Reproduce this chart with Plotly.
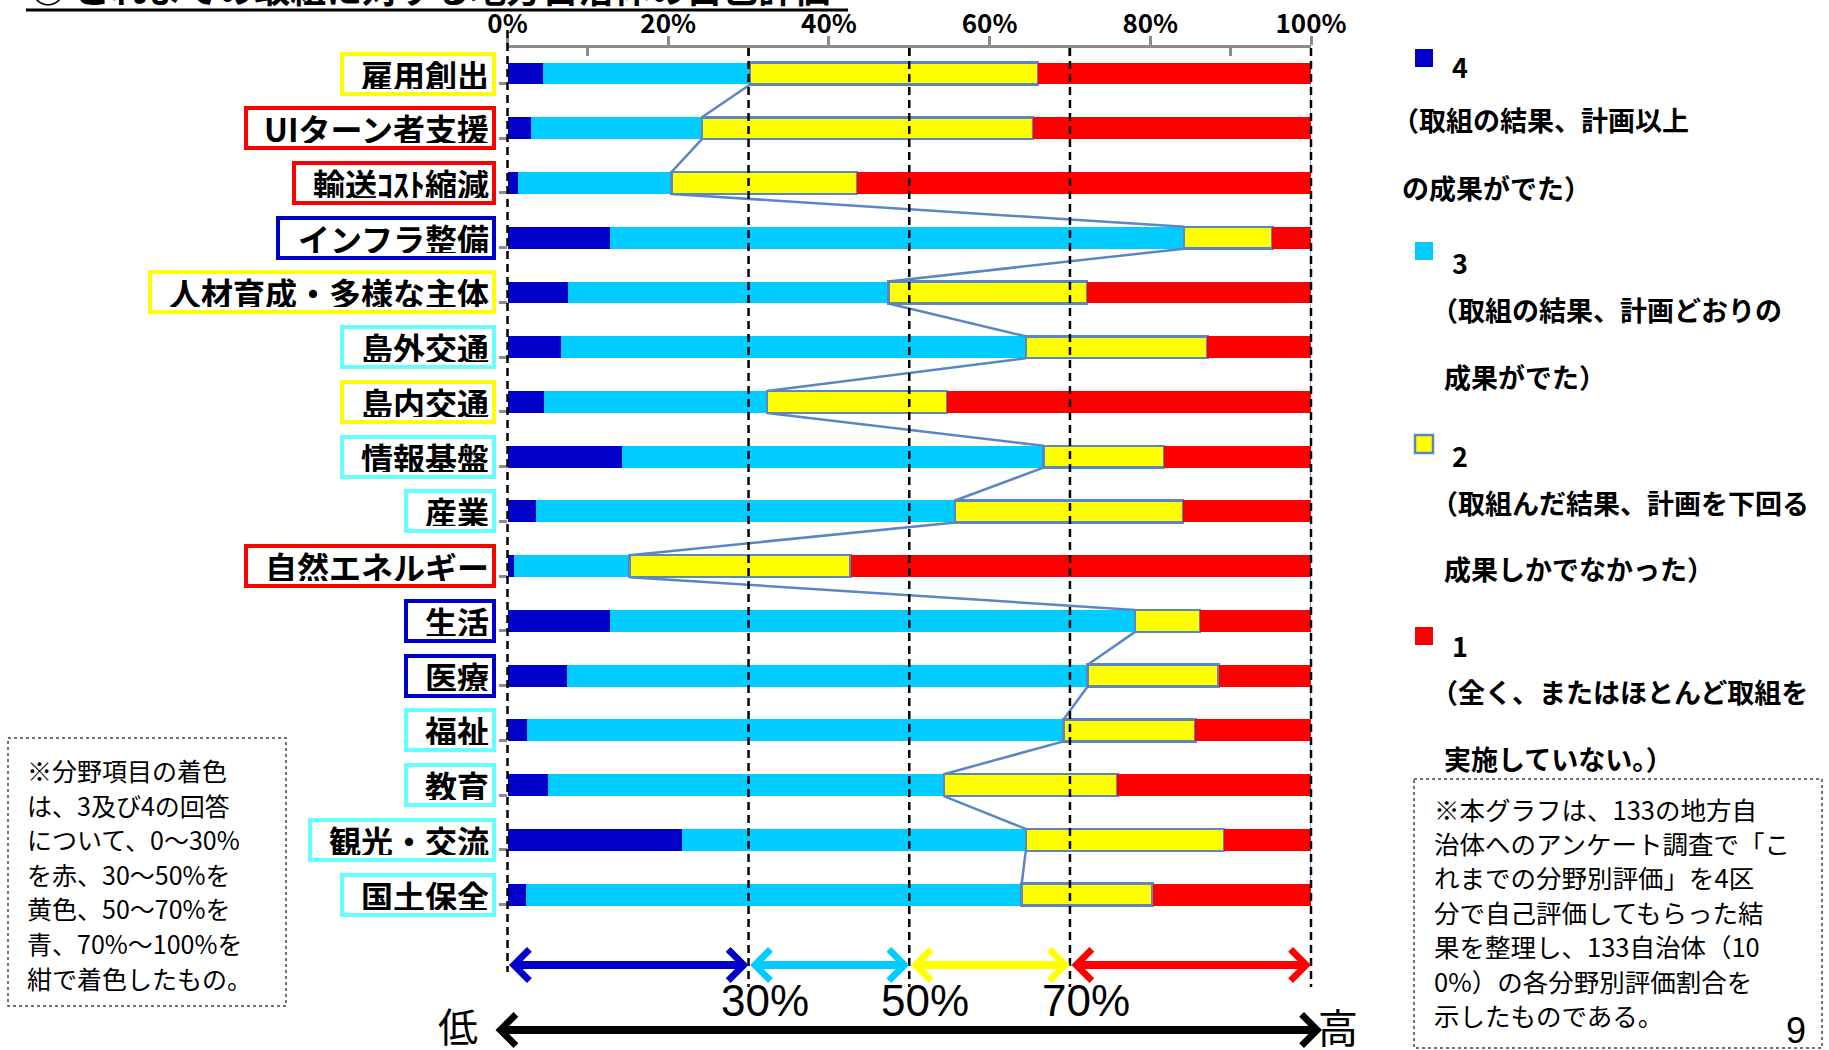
import plotly.graph_objects as go

# ---------------- data ----------------
categories = ["雇用創出", "UIターン者支援", "輸送ｺｽﾄ縮減", "インフラ整備", "人材育成・多様な主体",
              "島外交通", "島内交通", "情報基盤", "産業", "自然エネルギー",
              "生活", "医療", "福祉", "教育", "観光・交流", "国土保全"]
pct_4 = [4.4, 2.9, 1.3, 12.7, 7.5, 6.6, 4.5, 14.3, 3.5, 0.8, 12.7, 7.4, 2.4, 5.1, 21.7, 2.3]
pct_3 = [25.8, 21.3, 19.1, 71.5, 39.9, 57.9, 27.8, 52.4, 52.2, 14.4, 65.4, 64.8, 66.8, 49.2, 42.8, 61.7]
pct_2 = [35.8, 41.2, 23.1, 11.0, 24.7, 22.6, 22.4, 15.0, 28.4, 27.5, 8.1, 16.3, 16.4, 21.6, 24.7, 16.3]
pct_1 = [34.0, 34.6, 56.5, 4.8, 27.9, 12.9, 45.3, 18.3, 15.9, 57.3, 13.8, 11.5, 14.4, 24.1, 10.8, 19.7]

tick_values = [0, 20, 40, 60, 80, 100]
tick_labels = ["0%", "20%", "40%", "60%", "80%", "100%"]
minor_tick_values = [10, 30, 50, 70, 90]
band_edges = [0, 30, 50, 70, 100]
threshold_labels = ["30%", "50%", "70%"]

legend_numbers = ["4", "3", "2", "1"]
legend_desc = [["（取組の結果、計画以上", "の成果がでた）"],
               ["（取組の結果、計画どおりの", "成果がでた）"],
               ["（取組んだ結果、計画を下回る", "成果しかでなかった）"],
               ["（全く、またはほとんど取組を", "実施していない。）"]]
note_left = ["※分野項目の着色", "は、3及び4の回答", "について、0～30%", "を赤、30～50%を",
             "黄色、50～70%を", "青、70%～100%を", "紺で着色したもの。"]
note_right = ["※本グラフは、133の地方自", "治体へのアンケート調査で「こ", "れまでの分野別評価」を4区",
              "分で自己評価してもらった結", "果を整理し、133自治体（10", "0%）の各分野別評価割合を",
              "示したものである。"]
title_text = "○ これまでの取組に対する地方自治体の自己評価"

# ---------------- styles ----------------
NAVY = "#0000C8"
CYAN = "#00CCFF"
YELLOW = "#FFFF00"
RED = "#FF0000"
EDGE = "#5B86C2"
LBL_CYAN = "#66FFFF"
GRAY = "#8C8C8C"
FONT = "Noto Sans CJK JP"
NARROW = "Liberation Sans Narrow, Liberation Sans, Arial"

W, H = 1829, 1050
PLOT_L, PLOT_R = 507.5, 1311.0
PLOT_T, PLOT_B = 48.0, 922.0
PX_PER_PCT = (PLOT_R - PLOT_L) / 100.0


def X2(px):
    return (px - PLOT_L) / PX_PER_PCT


def PX(px):
    return px / W


n = len(categories)
idx = list(range(n))
BAR_GAP = 0.6
half = (1 - BAR_GAP) / 2

fig = go.Figure()
series = [(pct_4, NAVY, "4"), (pct_3, CYAN, "3"), (pct_2, YELLOW, "2"), (pct_1, RED, "1")]
for vals, col, name in series:
    fig.add_trace(go.Bar(
        x=vals, y=idx, orientation="h", name=name,
        marker=dict(color=col,
                    line=dict(color=EDGE if col == YELLOW else col,
                              width=2.5 if col == YELLOW else 0)),
        hoverinfo="x+name", showlegend=False))

# series lines (Excel style) between consecutive bars
cum3 = [a + b for a, b in zip(pct_4, pct_3)]
total = [a + b + c + d for a, b, c, d in zip(pct_4, pct_3, pct_2, pct_1)]
for arr, col, w in [(cum3, EDGE, 2.5), (total, "#8FB4E3", 2)]:
    xs, ys = [], []
    for i in range(n - 1):
        xs += [arr[i], arr[i + 1], None]
        ys += [i + half, i + 1 - half, None]
    fig.add_trace(go.Scatter(x=xs, y=ys, mode="lines", line=dict(color=col, width=w),
                             hoverinfo="skip", showlegend=False))

# invisible trace on overlay axes
fig.add_trace(go.Scatter(x=[None], y=[None], xaxis="x2", yaxis="y2", showlegend=False,
                         hoverinfo="skip"))


def band_color(v):
    if v < band_edges[1]:
        return RED
    if v < band_edges[2]:
        return YELLOW
    if v < band_edges[3]:
        return LBL_CYAN
    return NAVY


def text_units(s):
    u = 0.0
    for ch in s:
        u += 0.5 if (ord(ch) < 0x2000 or 0xFF61 <= ord(ch) <= 0xFF9F) else 1.0
    return u


annotations = []
shapes = []

# category labels in coloured boxes
LBL_SIZE = 32
for i, cat in enumerate(categories):
    annotations.append(dict(
        x=0, y=i, xref="x", yref="y", xanchor="right", yanchor="middle", xshift=-12,
        text=f"<b>{cat}</b>", showarrow=False, align="right",
        width=text_units(cat) * LBL_SIZE + 14, height=30,
        font=dict(family=FONT, size=LBL_SIZE, color="black"),
        bordercolor=band_color(cum3[i]), borderwidth=4, borderpad=3, bgcolor="white"))

# vertical dashed reference lines
for v in band_edges:
    shapes.append(dict(type="line", xref="x2", yref="y2", x0=v, x1=v,
                       y0=30 if v == 0 else PLOT_T, y1=972 if v == 0 else 987,
                       line=dict(color="black", width=2.5, dash="8px,5px"), layer="above"))

# coloured range arrows
arrow_colors = [NAVY, CYAN, YELLOW, RED]
for k in range(4):
    annotations.append(dict(
        x=band_edges[k + 1], y=965, ax=band_edges[k], ay=965,
        xref="x2", yref="y2", axref="x2", ayref="y2", text="", showarrow=True,
        arrowhead=4, startarrowhead=4, arrowside="end+start",
        arrowsize=0.75, startarrowsize=0.75, arrowwidth=8, arrowcolor=arrow_colors[k],
        standoff=0, startstandoff=0))
for k, lab in enumerate(threshold_labels):
    annotations.append(dict(x=band_edges[k + 1], y=1000, xref="x2", yref="y2", xshift=16,
                            text=lab, showarrow=False,
                            font=dict(family=NARROW, size=44, color="black")))

# big low/high arrow
annotations.append(dict(x=X2(1322), y=1030, ax=X2(494), ay=1030,
                        xref="x2", yref="y2", axref="x2", ayref="y2", text="", showarrow=True,
                        arrowhead=4, startarrowhead=4, arrowside="end+start",
                        arrowsize=0.75, startarrowsize=0.75, arrowwidth=8, arrowcolor="black",
                        standoff=0, startstandoff=0))
annotations.append(dict(x=X2(458), y=1025, xref="x2", yref="y2", text="低", showarrow=False,
                        font=dict(family=FONT, size=40, color="black")))
annotations.append(dict(x=X2(1338), y=1026, xref="x2", yref="y2", text="高", showarrow=False,
                        font=dict(family=FONT, size=40, color="black")))

# title (cut off at the top edge, as in the source slide)
annotations.append(dict(x=PX(28), y=1 + 13 / H, xref="paper", yref="paper", xanchor="left",
                        yanchor="middle", text=f"<b>{title_text}</b>", showarrow=False,
                        font=dict(family=FONT, size=36, color="black")))
shapes.append(dict(type="line", xref="paper", yref="y2", x0=PX(26), x1=PX(848), y0=10, y1=10,
                   line=dict(color="black", width=3)))

# custom legend
sq_y = [58, 251, 444, 636]
num_y = [66, 262, 455, 645]
desc_y = [[119, 187], [309, 376], [502, 568], [691, 758]]
desc_x = [[1390, 1400], [1429, 1442], [1429, 1442], [1429, 1442]]
for k, (vals, col, name) in enumerate(series):
    shapes.append(dict(type="rect", xref="paper", yref="y2",
                       x0=PX(1415), x1=PX(1433), y0=sq_y[k] - 9, y1=sq_y[k] + 9,
                       fillcolor=col,
                       line=dict(color=EDGE if col == YELLOW else col, width=2.5 if col == YELLOW else 0)))
    annotations.append(dict(x=PX(1470), y=num_y[k], xref="paper", yref="y2",
                            text=f"<b>{legend_numbers[k]}</b>", showarrow=False,
                            font=dict(family=FONT, size=27, color="black")))
    for j, line in enumerate(legend_desc[k]):
        annotations.append(dict(x=PX(desc_x[k][j]), y=desc_y[k][j], xref="paper", yref="y2",
                                xanchor="left", text=f"<b>{line}</b>", showarrow=False,
                                font=dict(family=FONT, size=27, color="black")))

# note boxes
shapes.append(dict(type="rect", xref="paper", yref="y2", x0=PX(8), x1=PX(286), y0=738, y1=1006,
                   line=dict(color="#444444", width=1.5, dash="dot")))
for j, line in enumerate(note_left):
    annotations.append(dict(x=PX(25), y=770 + j * 34.6, xref="paper", yref="y2", xanchor="left",
                            text=line, showarrow=False,
                            font=dict(family=FONT, size=25, color="black")))
shapes.append(dict(type="rect", xref="paper", yref="y2", x0=PX(1414), x1=PX(1822), y0=779, y1=1048,
                   line=dict(color="#444444", width=1.5, dash="dot")))
for j, line in enumerate(note_right):
    annotations.append(dict(x=PX(1432), y=808 + j * 34.4, xref="paper", yref="y2", xanchor="left",
                            text=line, showarrow=False,
                            font=dict(family=FONT, size=25.5, color="black")))
annotations.append(dict(x=PX(1808), y=1030, xref="paper", yref="y2", text="9", showarrow=False,
                        font=dict(family="Liberation Sans", size=36, color="black")))

X_MIN = X2(0)
X_MAX = X2(W)

fig.update_layout(
    width=W, height=H, autosize=False,
    margin=dict(l=0, r=0, t=0, b=0, pad=0, autoexpand=False),
    paper_bgcolor="white", plot_bgcolor="rgba(0,0,0,0)",
    barmode="stack", bargap=BAR_GAP,
    font=dict(family=FONT, color="black"),
    showlegend=False,
    xaxis=dict(domain=[PLOT_L / W, PLOT_R / W], range=[0, 100], side="top", anchor="y",
               automargin=False, ticklabelstandoff=-7,
               tickvals=tick_values, ticktext=tick_labels, ticks="outside", ticklen=9, tickwidth=3,
               tickcolor=GRAY, showline=True, linecolor=GRAY, linewidth=3, showgrid=False,
               zeroline=False, tickfont=dict(family=FONT, size=26, color="black", weight="bold"),
               minor=dict(tickvals=minor_tick_values, ticks="inside", ticklen=8, tickwidth=3,
                          tickcolor=GRAY, showgrid=False)),
    yaxis=dict(domain=[1 - PLOT_B / H, 1 - PLOT_T / H], range=[n - 0.5, -0.466], anchor="x",
               automargin=False,
               tickvals=[i + 0.18 for i in idx], ticks="outside", ticklen=8, tickwidth=3,
               tickcolor=GRAY, showticklabels=False, showline=False, showgrid=False, zeroline=False),
    xaxis2=dict(domain=[0, 1], range=[X_MIN, X_MAX], anchor="y2", visible=False, showgrid=False,
                zeroline=False, automargin=False),
    yaxis2=dict(domain=[0, 1], range=[H, 0], anchor="x2", visible=False, showgrid=False,
                zeroline=False, automargin=False),
    annotations=annotations,
    shapes=shapes,
)

fig.write_html("out.html", config={"displayModeBar": False},
               post_script="document.body.style.margin='0';document.body.style.overflow='hidden';")
